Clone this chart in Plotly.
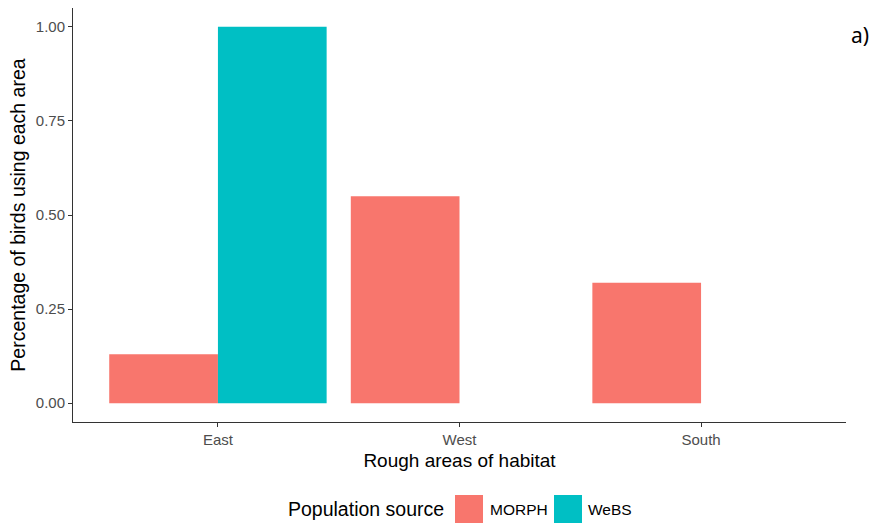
import plotly.graph_objects as go

categories = ["East", "West", "South"]
morph = [0.13, 0.55, 0.32]
webs = [1.00, 0.0, 0.0]
series_names = ["MORPH", "WeBS"]
series_colors = ["#F8766D", "#00BFC4"]
y_ticks = [0.0, 0.25, 0.5, 0.75, 1.0]
y_tick_labels = ["0.00", "0.25", "0.50", "0.75", "1.00"]

fig = go.Figure()
for name, vals, col in zip(series_names, [morph, webs], series_colors):
    fig.add_trace(go.Bar(x=categories, y=vals, name=name,
                         marker=dict(color=col, line=dict(width=0))))

font_family = "Liberation Sans, Arial, sans-serif"

# plot area in pixels
L, R, T, B = 73, 846, 8, 422
W, H = R - L, B - T


def px(xp):
    return (xp - L) / W


def py(yp):
    return (B - yp) / H


shapes = []
annotations = []
# manual ggplot-style legend
annotations.append(dict(text="Population source", xref="paper", yref="paper",
                        x=px(446), y=py(509), xanchor="right", yanchor="middle",
                        showarrow=False, font=dict(size=19.5, color="#000")))
box_x = [455, 554]
label_x = [488, 586]
for i, (name, col) in enumerate(zip(series_names, series_colors)):
    shapes.append(dict(type="rect", xref="paper", yref="paper",
                       x0=px(box_x[i]), x1=px(box_x[i] + 28),
                       y0=py(495), y1=py(523), fillcolor=col,
                       line=dict(width=0), layer="above"))
    annotations.append(dict(text=name, xref="paper", yref="paper",
                            x=px(label_x[i]), y=py(509), xanchor="left", yanchor="middle",
                            showarrow=False, font=dict(size=15.5, color="#000")))

annotations.append(dict(text="a)", xref="paper", yref="paper", x=px(860), y=py(35),
                        xanchor="center", yanchor="middle", showarrow=False,
                        font=dict(size=21, color="#000", family="Noto Sans, sans-serif")))

fig.update_layout(
    width=875, height=525,
    barmode="group", bargap=0.1, bargroupgap=0,
    plot_bgcolor="white", paper_bgcolor="white",
    margin=dict(l=L, r=875 - R, t=T, b=525 - B, autoexpand=False),
    font=dict(family=font_family, color="#000000"),
    showlegend=False,
    xaxis=dict(
        range=[-0.6, 2.6], showline=True, linecolor="#333333", linewidth=1,
        ticks="outside", ticklen=4, tickcolor="#333333",
        tickfont=dict(size=15, color="#4d4d4d"), automargin=False,
        title=dict(text="Rough areas of habitat", font=dict(size=19, color="#000"), standoff=6),
        showgrid=False, zeroline=False,
    ),
    yaxis=dict(
        range=[-0.05, 1.05], showline=True, linecolor="#333333", linewidth=1,
        ticks="outside", ticklen=4, tickcolor="#333333",
        tickvals=y_ticks, ticktext=y_tick_labels, automargin=False,
        tickfont=dict(size=15, color="#4d4d4d"),
        title=dict(text="Percentage of birds using each area", font=dict(size=19.5, color="#000"), standoff=4),
        showgrid=False, zeroline=False,
    ),
    shapes=shapes,
    annotations=annotations,
)

fig.write_html("out.html", config={"displayModeBar": False},
               post_script="document.body.style.margin='0px';")
